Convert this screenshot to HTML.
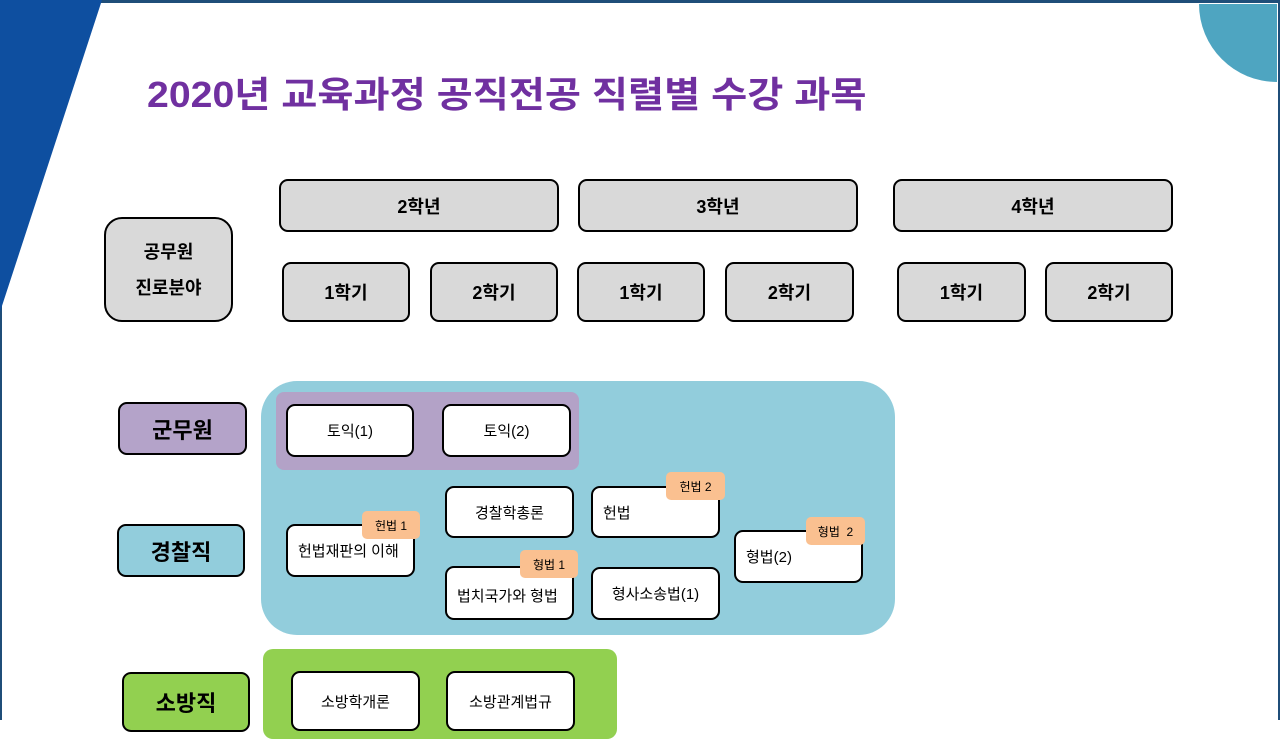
<!DOCTYPE html>
<html><head><meta charset="utf-8"><style>
*{margin:0;padding:0;box-sizing:border-box}
body{width:1280px;height:720px;overflow:hidden;background:#fff;position:relative;font-family:"Liberation Sans","Noto Sans CJK KR",sans-serif;font-weight:bold}
.a{position:absolute}
.b{position:absolute;border:2.5px solid #000;border-radius:9px;background:#d9d9d9;display:flex;align-items:center;justify-content:center;font-size:18px;color:#000;text-align:center}
.w{background:#fff;font-size:15px;font-weight:normal}
.l{justify-content:flex-start;padding-left:10px}
.t{position:absolute;background:#fac090;border-radius:5px;font-size:12px;font-weight:normal;display:flex;align-items:center;justify-content:center}
.g{font-size:22px}
</style></head><body>
<div class="a" style="left:0;top:0;width:1280px;height:720px;border-top:3px solid #1f4e79;border-right:2px solid #1f4e79;border-left:2px solid #1f4e79"></div>
<svg class="a" style="left:0;top:0" width="1280" height="720"><polygon points="0,0 102,0 0,312" fill="#0e4fa0"/><path d="M1199,4 L1277,4 L1277,82 A78,78 0 0 1 1199,4 Z" fill="#4ea5c1"/></svg>
<div class="a" style="left:147px;top:66px;font-size:36px;color:#7030a0;white-space:nowrap;transform:scaleX(1.09);transform-origin:left">2020년 교육과정 공직전공 직렬별 수강 과목</div>
<div class="b" style="left:104px;top:217px;width:129px;height:105px;line-height:36px;border-radius:18px">공무원<br>진로분야</div>
<div class="b" style="left:279px;top:179px;width:280px;height:53px">2학년</div>
<div class="b" style="left:578px;top:179px;width:280px;height:53px">3학년</div>
<div class="b" style="left:893px;top:179px;width:280px;height:53px">4학년</div>
<div class="b" style="left:282px;top:262px;width:128px;height:60px">1학기</div>
<div class="b" style="left:430px;top:262px;width:128px;height:60px">2학기</div>
<div class="b" style="left:577px;top:262px;width:128px;height:60px">1학기</div>
<div class="b" style="left:725px;top:262px;width:129px;height:60px">2학기</div>
<div class="b" style="left:897px;top:262px;width:129px;height:60px">1학기</div>
<div class="b" style="left:1045px;top:262px;width:128px;height:60px">2학기</div>
<div class="b g" style="left:118px;top:402px;width:129px;height:53px;background:#b4a3c9">군무원</div>
<div class="b g" style="left:117px;top:524px;width:128px;height:53px;background:#92cddc">경찰직</div>
<div class="b g" style="left:122px;top:672px;width:128px;height:60px;background:#92d050">소방직</div>
<div class="a" style="left:261px;top:381px;width:634px;height:254px;border-radius:36px;background:#92cddc"></div>
<div class="a" style="left:276px;top:392px;width:303px;height:78px;border-radius:8px;background:#b3a2c7"></div>
<div class="a" style="left:263px;top:649px;width:354px;height:90px;border-radius:10px;background:#92d050"></div>
<div class="b w" style="left:286px;top:404px;width:128px;height:53px">토익(1)</div>
<div class="b w" style="left:442px;top:404px;width:129px;height:53px">토익(2)</div>
<div class="b w l" style="left:286px;top:524px;width:129px;height:53px">헌법재판의 이해</div>
<div class="t" style="left:362px;top:511px;width:58px;height:28px">헌법 1</div>
<div class="b w" style="left:445px;top:486px;width:129px;height:52px">경찰학총론</div>
<div class="b w l" style="left:591px;top:486px;width:129px;height:52px">헌법</div>
<div class="t" style="left:666px;top:472px;width:59px;height:28px">헌법 2</div>
<div class="b w l" style="left:445px;top:566px;width:129px;height:54px;padding-top:4px">법치국가와 형법</div>
<div class="t" style="left:520px;top:550px;width:58px;height:28px">형법 1</div>
<div class="b w" style="left:591px;top:567px;width:129px;height:53px">형사소송법(1)</div>
<div class="b w l" style="left:734px;top:530px;width:129px;height:53px">형법(2)</div>
<div class="t" style="left:806px;top:517px;width:59px;height:28px">형법 &nbsp;2</div>
<div class="b w" style="left:291px;top:671px;width:129px;height:60px">소방학개론</div>
<div class="b w" style="left:446px;top:671px;width:129px;height:60px">소방관계법규</div>
</body></html>
